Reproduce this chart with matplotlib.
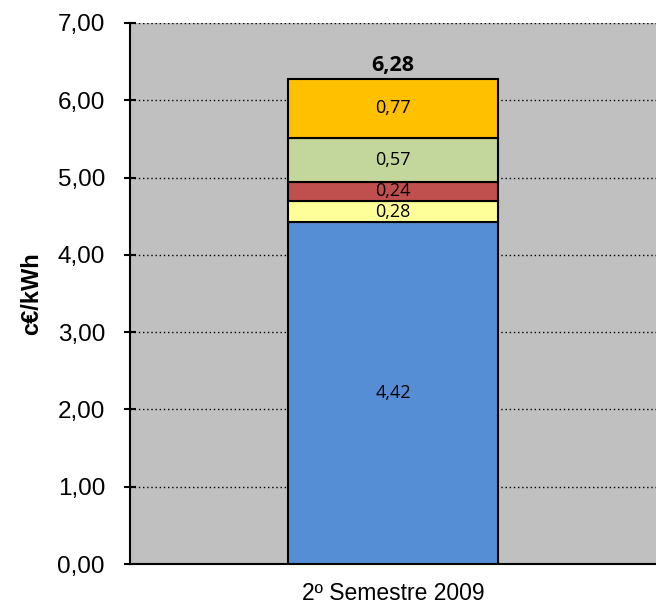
import matplotlib
matplotlib.use("Agg")
import matplotlib.pyplot as plt

category = ["2º Semestre 2009"]
components = [4.42, 0.28, 0.24, 0.57, 0.77]
labels = ["4,42", "0,28", "0,24", "0,57", "0,77"]
total_label = "6,28"
colors = ["#558ED5", "#FFFF99", "#C0504D", "#C3D69B", "#FFC000"]
yticks = [0, 1, 2, 3, 4, 5, 6, 7]
ytick_labels = ["0,00", "1,00", "2,00", "3,00", "4,00", "5,00", "6,00", "7,00"]

fig = plt.figure(figsize=(6.56, 6.12), dpi=100)
ax = fig.add_axes([130/656, 1-564/612, 526/656, (564-23)/612])
ax.set_facecolor("#C0C0C0")

bottom = 0
for v, lab, c in zip(components, labels, colors):
    ax.bar(0, v, bottom=bottom, width=0.4, color=c, edgecolor="black", linewidth=1.5, zorder=3)
    ax.text(0, bottom + v/2, lab, ha="center", va="center", fontsize=13,
            family="Open Sans", color="black", zorder=4)
    bottom += v
ax.text(0, bottom + 0.04, total_label, ha="center", va="bottom", fontsize=15.5,
        fontweight="bold", family="Open Sans", zorder=4)

ax.set_xlim(-0.5, 0.5)
ax.set_ylim(0, 7)
ax.set_yticks(yticks)
ax.set_yticklabels(ytick_labels, family="Liberation Sans", fontsize=17.5)
ax.set_xticks([0])
ax.set_xticklabels(category, family="Liberation Sans", fontsize=16.5)
ax.tick_params(axis="x", length=0, pad=13)
ax.tick_params(axis="y", length=8, width=1.5, direction="inout", pad=14)
ax.yaxis.grid(True, linestyle=(0, (1, 2)), color="black", linewidth=1, zorder=1)
ax.set_axisbelow(True)
for s in ["top", "right"]:
    ax.spines[s].set_visible(False)
for s in ["left", "bottom"]:
    ax.spines[s].set_linewidth(1.5)
ax.set_ylabel("c€/kWh", family="Liberation Sans", fontsize=17, fontweight="bold", labelpad=10)

fig.savefig("out.png", dpi=100)
